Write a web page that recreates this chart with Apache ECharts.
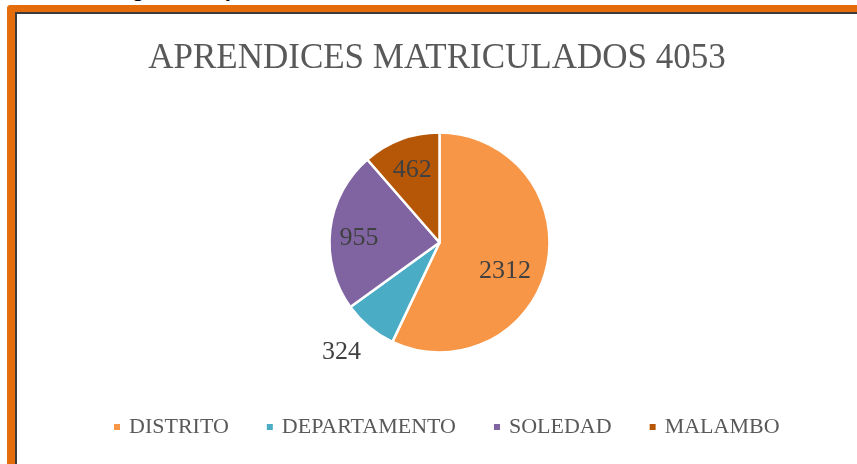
<!DOCTYPE html>
<html>
<head>
<meta charset="utf-8">
<script src="https://cdn.jsdelivr.net/npm/echarts@6/dist/echarts.min.js"></script>
<style>
  html, body { margin: 0; padding: 0; background: #ffffff; overflow: hidden; }
  body { width: 857px; height: 464px; position: relative; }
  #caption {
    position: absolute; left: 112px; top: -22px;
    font: bold 22px/22px "Liberation Sans", Arial, sans-serif; color: #000;
    white-space: nowrap;
  }
  #frame {
    position: absolute; left: 7px; top: 5px; width: 900px; height: 520px;
    border-left: 8px solid #E46C0A; border-top: 7px solid #E46C0A;
    border-top-left-radius: 4px;
  }
  #chart {
    position: absolute; left: 15px; top: 12px; width: 840px; height: 450px;
    border-left: 2px solid #3b3b3b; border-top: 2px solid #3b3b3b;
    background: #ffffff;
  }
</style>
</head>
<body>
<div id="caption">Figura 1. Aprendices matriculados</div>
<div id="frame"></div>
<div id="chart"></div>
<script>
// Enrolled apprentices by location
const titleText = 'APRENDICES MATRICULADOS 4053';
const categories = ['DISTRITO', 'DEPARTAMENTO', 'SOLEDAD', 'MALAMBO'];
const values = [2312, 324, 955, 462];
const colors = ['#F79646', '#4BACC6', '#8064A2', '#B65708'];

// Nudges applied to each value label, away from the slice mid-radius point
const labelNudges = [[9, 16], [-61, 65], [-23, 2], [-7, -18]];

const serif = '"Liberation Serif", "DejaVu Serif", serif';
const chart = echarts.init(document.getElementById('chart'));

chart.setOption({
  backgroundColor: '#ffffff',
  animation: false,
  title: {
    text: titleText,
    left: 'center',
    top: 22,
    textStyle: { fontFamily: serif, fontSize: 35, fontWeight: 'normal', color: '#595959' }
  },
  legend: {
    data: categories,
    top: 397,
    left: 90,
    icon: 'rect',
    itemWidth: 8,
    itemHeight: 8,
    itemGap: 36,
    textStyle: { fontFamily: serif, fontSize: 22, color: '#595959', padding: [0, 0, 0, 3] }
  },
  series: [{
    type: 'pie',
    center: [422.5, 228.5],
    radius: [0, 110],
    startAngle: 90,
    clockwise: true,
    color: colors,
    itemStyle: { borderColor: '#ffffff', borderWidth: 2.5 },
    label: {
      show: true,
      position: 'inside',
      formatter: '{c}',
      fontFamily: serif,
      fontSize: 26,
      color: '#404040'
    },
    labelLine: { show: false },
    labelLayout: function (params) {
      const n = labelNudges[params.dataIndex];
      return { dx: n[0], dy: n[1] };
    },
    emphasis: { disabled: true },
    data: categories.map((name, i) => ({ name: name, value: values[i] }))
  }]
});
</script>
</body>
</html>
